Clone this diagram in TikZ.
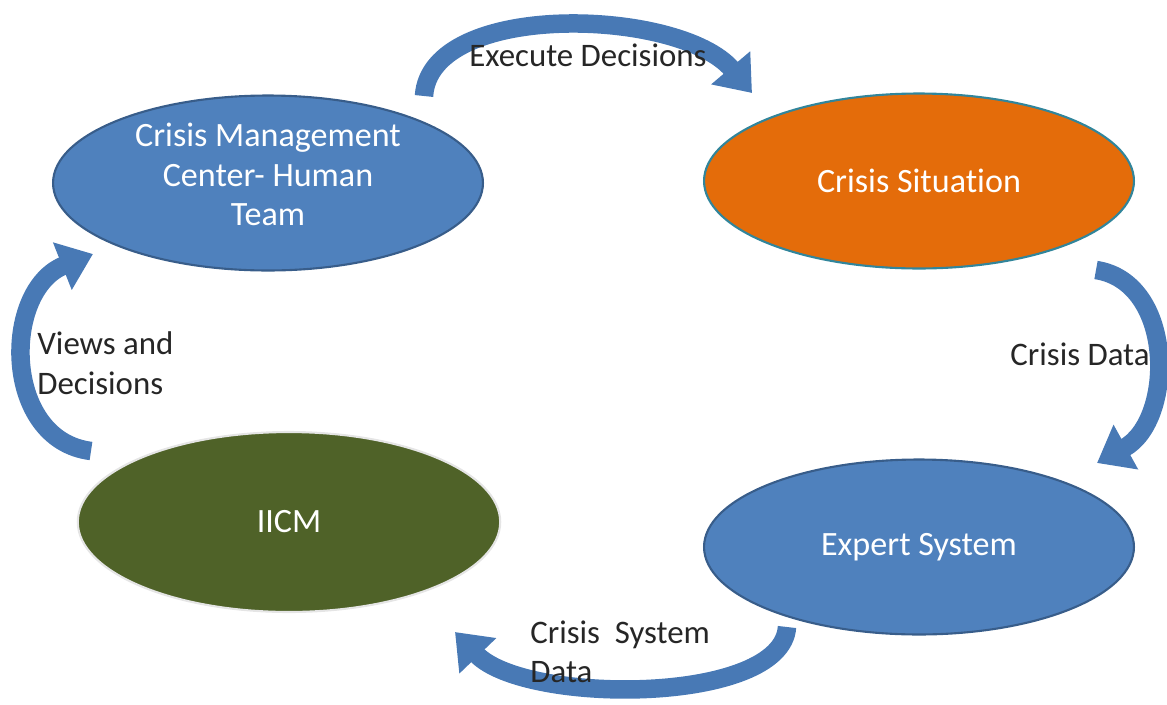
\documentclass[tikz,border=0pt]{standalone}
\usepackage{fontspec}
\setmainfont{Carlito}[Ligatures=NoCommon]
\usepackage{tikz}
\usetikzlibrary{shapes.geometric, arrows.meta, positioning}
\definecolor{cmcblue}{RGB}{79, 129, 189}
\definecolor{cmcedge}{RGB}{56, 93, 138}
\definecolor{crisisorange}{RGB}{228, 108, 10}
\definecolor{crisisedge}{RGB}{49, 133, 155}
\definecolor{iicmgreen}{RGB}{79, 98, 40}
\definecolor{arrowblue}{RGB}{72, 121, 181}

\begin{document}
\begin{tikzpicture}[
    x=0.02cm, y=-0.02cm,
    blob/.style={ellipse, draw, line width=1.2pt, inner sep=0pt, minimum width=8.6cm, minimum height=3.5cm, align=center, text=white, font=\fontsize{19.4}{22.5}\selectfont},
    label/.style={text=black!85, font=\fontsize{18.7}{22.5}\selectfont, inner sep=0pt},
    flow/.style={-{Triangle[length=0.66cm, width=0.98cm]}, line width=0.37cm, draw=arrowblue}
]
    \useasboundingbox (0,0) rectangle (1167,704);

    % Ellipses
    \node[blob, fill=cmcblue, draw=cmcedge, text depth=0.34cm] (cmc) at (268,183) {Crisis Management\\Center- Human\\Team};
    \node[blob, fill=crisisorange, draw=crisisedge] (situation) at (919,181) {Crisis Situation};
    \node[blob, fill=cmcblue, draw=cmcedge] (expert) at (919,547) {Expert System};
    \node[blob, fill=iicmgreen, draw=black!10, minimum width=8.45cm, minimum height=3.6cm] (iicm) at (289,522) {IICM};

    % Arrow ends
    \coordinate (cmcout) at (424,96);
    \coordinate (situationin) at (752,93);
    \coordinate (situationout) at (1096,270);
    \coordinate (expertin) at (1097,463);
    \coordinate (expertout) at (787,627);
    \coordinate (iicmin) at (455,632);
    \coordinate (iicmout) at (91,451);
    \coordinate (cmcin) at (93,254);

    % Curved arrows
    \draw[flow] (cmcout) .. controls (430,0) and (680,8) .. (situationin);
    \draw[flow] (situationout) .. controls (1175,282) and (1175,420) .. (expertin);
    \draw[flow] (expertout) .. controls (782,705) and (525,705) .. (iicmin);
    \draw[flow] (iicmout) .. controls (2,440) and (2,290) .. (cmcin);

    % Labels
    \node[label] (execute) at (588,55) {Execute Decisions};
    \node[label] (crisisdata) at (1080,354) {Crisis Data};
    \node[label, anchor=west, align=left] (systemdata) at (530,652) {Crisis\ \ System\\Data};
    \node[label, anchor=west, align=left] (views) at (37,363) {Views and\\Decisions};
\end{tikzpicture}
\end{document}
